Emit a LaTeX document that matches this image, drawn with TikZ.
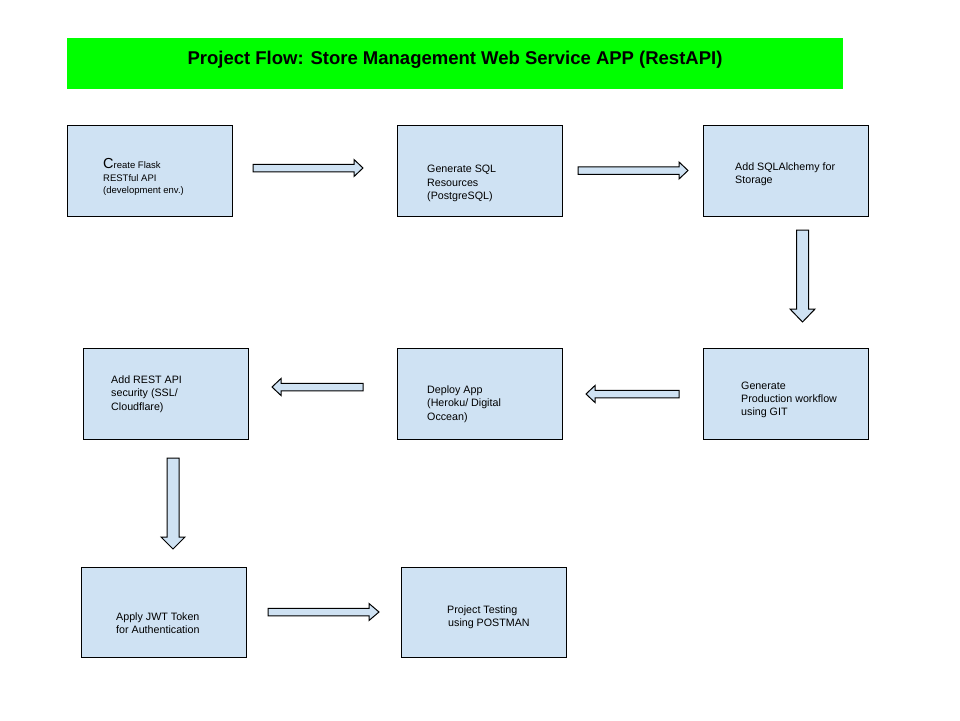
\documentclass[tikz,border=0pt]{standalone}
\usepackage{fontspec}
\setmainfont{Liberation Sans}
\usetikzlibrary{calc}
\definecolor{boxblue}{HTML}{CFE2F3}
\definecolor{titlegreen}{HTML}{00FF00}
% block arrow from #1 to #2: shaft half width #3, head half width #4, head length #5
\newcommand\flowarrow[5]{%
  \coordinate (fa-hb) at ($(#2)!#5!(#1)$);
  \draw[blockarrow] ($(#1)!#3!-90:(#2)$) -- ($(fa-hb)!#3!90:(#1)$) -- ($(fa-hb)!#4!90:(#1)$)
    -- (#2) -- ($(fa-hb)!#4!-90:(#1)$) -- ($(fa-hb)!#3!-90:(#1)$) -- ($(#1)!#3!90:(#2)$) -- cycle;
}
\begin{document}
\begin{tikzpicture}[x=1pt,y=-1pt,
  box/.style={draw=black, line width=1pt, fill=boxblue, minimum width=165pt, minimum height=91pt, inner sep=0pt, anchor=north west},
  boxtext/.style={anchor=west, align=left, inner sep=0pt, font=\fontsize{10.7}{13.3}\selectfont},
  blockarrow/.style={draw=black, line width=1pt, fill=boxblue, line join=miter},
  titlebar/.style={fill=titlegreen, draw=none, minimum width=776pt, minimum height=51pt, inner sep=0pt, anchor=north west},
  titletext/.style={font=\bfseries\fontsize{18.5}{20}\selectfont, inner sep=0pt}
]
\useasboundingbox (0,0) rectangle (960,720);
\fill[white] (0,0) rectangle (960,720);

% title
\node[titlebar] (bar) at (67,38) {};
\node[titletext] (title) at (455,60) {Project Flow: Store Management Web Service APP (RestAPI)};

% boxes
\node[box] (b1) at (67,125) {};
\node[box] (b2) at (397,125) {};
\node[box] (b3) at (703,125) {};
\node[box] (b4) at (703,348) {};
\node[box] (b5) at (397,348) {};
\node[box] (b6) at (83,348) {};
\node[box, minimum height=90pt] (b7) at (81,567) {};
\node[box, minimum height=90pt] (b8) at (401,567) {};

% texts
\node[boxtext, font=\fontsize{9.5}{12.3}\selectfont] (t1) at (103,177) {{\fontsize{14.5}{12}\selectfont C}reate Flask\\RESTful API\\(development env.)};
\node[boxtext] (t2) at (427,183.5) {Generate SQL\\Resources\\(PostgreSQL)};
\node[boxtext] (t3) at (735,174) {Add SQLAlchemy for\\Storage};
\node[boxtext] (t4) at (741,400) {Generate\\Production workflow\\using GIT};
\node[boxtext] (t5) at (427,404) {Deploy App\\(Heroku/ Digital\\Occean)};
\node[boxtext] (t6) at (111,394) {Add REST API\\security (SSL/\\Cloudflare)};
\node[boxtext] (t7) at (116,623) {Apply JWT Token\\for Authentication};
\node[boxtext] (t8) at (447,617.5) {Project Testing\\\hspace{1pt}using POSTMAN};

% arrow end points
\coordinate (a1s) at (253,168);   \coordinate (a1e) at (363,168);
\coordinate (a2s) at (578,170.5); \coordinate (a2e) at (688,170.5);
\coordinate (a3s) at (802.5,230); \coordinate (a3e) at (802.5,322);
\coordinate (a4s) at (679,394);   \coordinate (a4e) at (586,394);
\coordinate (a5s) at (363,387);   \coordinate (a5e) at (272,387);
\coordinate (a6s) at (173,458);   \coordinate (a6e) at (173,549);
\coordinate (a7s) at (268,612);   \coordinate (a7e) at (379,612);

\flowarrow{a1s}{a1e}{3.75pt}{8.5pt}{9pt}
\flowarrow{a2s}{a2e}{3.75pt}{8.5pt}{9pt}
\flowarrow{a3s}{a3e}{6pt}{12.5pt}{13pt}
\flowarrow{a4s}{a4e}{3.75pt}{8.5pt}{9pt}
\flowarrow{a5s}{a5e}{3.75pt}{8.5pt}{9pt}
\flowarrow{a6s}{a6e}{6pt}{12pt}{12pt}
\flowarrow{a7s}{a7e}{3.75pt}{8.5pt}{10pt}
\end{tikzpicture}
\end{document}
